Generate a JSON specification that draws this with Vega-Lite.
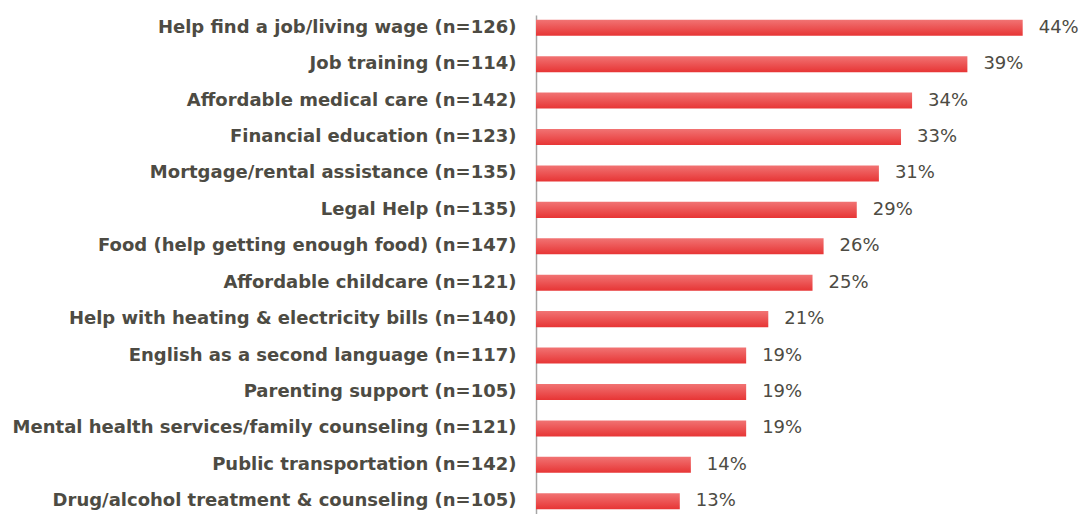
{
  "$schema": "https://vega.github.io/schema/vega-lite/v6.json",
  "autosize": "none",
  "width": 542,
  "height": 499,
  "padding": {"left": 536, "top": 15, "right": 10, "bottom": 0},
  "background": "white",
  "data": {"values": [
    {"need": "Help find a job/living wage (n=126)", "pct": 0.44},
    {"need": "Job training (n=114)", "pct": 0.39},
    {"need": "Affordable medical care (n=142)", "pct": 0.34},
    {"need": "Financial education (n=123)", "pct": 0.33},
    {"need": "Mortgage/rental assistance (n=135)", "pct": 0.31},
    {"need": "Legal Help (n=135)", "pct": 0.29},
    {"need": "Food (help getting enough food) (n=147)", "pct": 0.26},
    {"need": "Affordable childcare (n=121)", "pct": 0.25},
    {"need": "Help with heating & electricity bills (n=140)", "pct": 0.21},
    {"need": "English as a second language (n=117)", "pct": 0.19},
    {"need": "Parenting support (n=105)", "pct": 0.19},
    {"need": "Mental health services/family counseling (n=121)", "pct": 0.19},
    {"need": "Public transportation (n=142)", "pct": 0.14},
    {"need": "Drug/alcohol treatment & counseling (n=105)", "pct": 0.13}
  ]},
  "config": {"view": {"stroke": null}},
  "encoding": {
    "y": {
      "field": "need", "type": "nominal", "sort": null, "title": null,
      "scale": {"paddingInner": 0.56, "paddingOuter": 0.13},
      "axis": {
        "ticks": false, "labelPadding": 20, "labelLimit": 0,
        "labelFont": "DejaVu Sans", "labelFontWeight": "bold", "labelFontSize": 18,
        "labelColor": "#4d4b43", "domainColor": "#a6a6a6", "domainWidth": 1.5
      }
    },
    "x": {
      "field": "pct", "type": "quantitative", "title": null,
      "scale": {"domain": [0, 0.49]}, "axis": null
    }
  },
  "layer": [
    {
      "mark": {"type": "bar", "color": {"gradient": "linear", "x1": 0, "y1": 0, "x2": 0, "y2": 1,
        "stops": [{"offset": 0, "color": "#f17373"}, {"offset": 1, "color": "#e73535"}]}}
    },
    {
      "mark": {"type": "text", "align": "left", "baseline": "middle", "dx": 16, "font": "DejaVu Sans", "fontSize": 18, "color": "#4d4b43"},
      "encoding": {"text": {"field": "pct", "type": "quantitative", "format": ".0%"}}
    }
  ]
}
